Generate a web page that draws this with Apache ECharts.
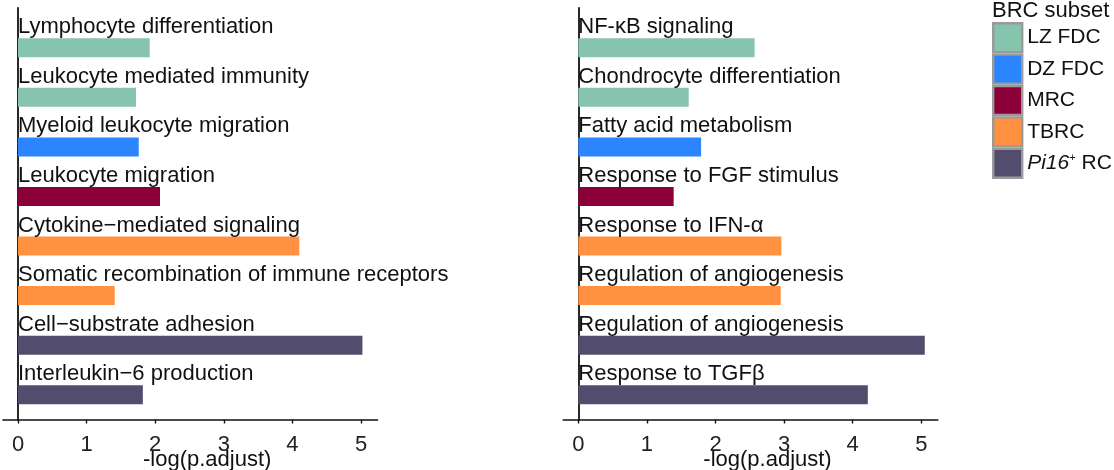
<!DOCTYPE html>
<html>
<head>
<meta charset="utf-8">
<script src="https://cdn.jsdelivr.net/npm/echarts@6/dist/echarts.min.js"></script>
<style>
html,body{margin:0;padding:0;background:#fff;}
#chart{width:1114px;height:470px;}
</style>
</head>
<body>
<div id="chart"></div>
<script>
// ---- data ----
const subsets = ['LZ FDC', 'DZ FDC', 'MRC', 'TBRC', 'Pi16+ RC'];
const subsetColors = ['#86C4AE', '#2A85FF', '#8C0039', '#FF9140', '#524C6E'];

const leftTerms = ['Lymphocyte differentiation', 'Leukocyte mediated immunity', 'Myeloid leukocyte migration',
  'Leukocyte migration', 'Cytokine\u2212mediated signaling', 'Somatic recombination of immune receptors',
  'Cell\u2212substrate adhesion', 'Interleukin\u22126 production'];
const leftValues = [1.92, 1.72, 1.76, 2.07, 4.10, 1.41, 5.02, 1.82];
const leftSubsets = ['LZ FDC', 'LZ FDC', 'DZ FDC', 'MRC', 'TBRC', 'TBRC', 'Pi16+ RC', 'Pi16+ RC'];

const rightTerms = ['NF-\u03baB signaling', 'Chondrocyte differentiation', 'Fatty acid metabolism',
  'Response to FGF stimulus', 'Response to IFN-\u03b1', 'Regulation of angiogenesis',
  'Regulation of angiogenesis', 'Response to TGF\u03b2'];
const rightValues = [2.57, 1.61, 1.79, 1.39, 2.96, 2.95, 5.05, 4.22];
const rightSubsets = ['LZ FDC', 'LZ FDC', 'DZ FDC', 'MRC', 'TBRC', 'TBRC', 'Pi16+ RC', 'Pi16+ RC'];

const xTicks = [0, 1, 2, 3, 4, 5];
const xTitle = '-log(p.adjust)';

// ---- chart ----
const FONT = 'Liberation Sans, Arial, sans-serif';
const TXT = '#111';
const chart = echarts.init(document.getElementById('chart'), null, {renderer: 'canvas'});

const XMIN = -0.22, XMAX = 5.24;
const panelLefts = [2.9, 563.2];
const panelWidth = 374.6;

const grids = [], xAxes = [], yAxes = [], series = [];
const panels = [
  {terms: leftTerms, values: leftValues, subs: leftSubsets},
  {terms: rightTerms, values: rightValues, subs: rightSubsets}
];

panels.forEach((p, pi) => {
  // grid for the tall vertical axis line
  grids.push({left: panelLefts[pi], width: panelWidth, top: 8, height: 412,
    containLabel: false, outerBoundsMode: 'none'});
  // grid for bars
  grids.push({left: panelLefts[pi], width: panelWidth, top: 23, height: 396.5,
    containLabel: false, outerBoundsMode: 'none'});
  const gLine = pi * 2, gBar = pi * 2 + 1;

  xAxes.push({gridIndex: gLine, type: 'value', min: XMIN, max: XMAX, show: false});
  yAxes.push({gridIndex: gLine, type: 'value', min: 0, max: 1,
    axisLine: {show: true, lineStyle: {color: '#111', width: 1.8}},
    axisTick: {show: false}, axisLabel: {show: false}, splitLine: {show: false}});

  xAxes.push({gridIndex: gBar, type: 'value', min: XMIN, max: XMAX,
    axisLine: {show: true, onZero: false, lineStyle: {color: '#111', width: 1.6}},
    axisTick: {show: true, length: 4, customValues: xTicks, lineStyle: {color: '#111', width: 1.4}},
    axisLabel: {show: true, customValues: xTicks, fontSize: 22, color: '#222', fontFamily: FONT, margin: 14},
    splitLine: {show: false},
    name: xTitle, nameLocation: 'middle', nameGap: 29, nameMoveOverlap: false,
    nameTextStyle: {fontSize: 22, color: TXT, fontFamily: FONT, padding: [0, 0, 0, 34]}});
  yAxes.push({gridIndex: gBar, type: 'category', data: p.terms, inverse: true,
    axisLine: {show: false}, axisTick: {show: false}, axisLabel: {show: false}, splitLine: {show: false}});

  subsets.forEach((s, si) => {
    series.push({
      name: s, type: 'bar', xAxisIndex: pi * 2 + 1, yAxisIndex: pi * 2 + 1,
      stack: 'panel' + pi, barWidth: 19,
      itemStyle: {color: subsetColors[si]},
      data: p.values.map((v, i) => p.subs[i] === s ? v : '-'),
      label: {show: true, position: [0, 0], align: 'left', verticalAlign: 'bottom',
        fontSize: 22, color: TXT, fontFamily: FONT,
        formatter: (prm) => p.terms[prm.dataIndex]},
      emphasis: {disabled: true}, silent: true, animation: false
    });
  });
});

chart.setOption({
  animation: false,
  backgroundColor: '#fff',
  textStyle: {fontFamily: FONT},
  title: {text: 'BRC subset', left: 992, top: 0, padding: 0,
    textStyle: {fontSize: 22, fontWeight: 'normal', color: TXT, fontFamily: FONT}},
  legend: {
    data: subsets, orient: 'vertical', left: 992, top: 22, padding: 0,
    itemWidth: 29, itemHeight: 29, itemGap: 0, icon: 'rect', selectedMode: false,
    itemStyle: {borderColor: '#9a9a9a', borderWidth: 2.4},
    textStyle: {fontSize: 21, color: TXT, fontFamily: FONT,
      rich: {
        i: {fontStyle: 'italic', fontSize: 21, color: TXT, fontFamily: FONT},
        sup: {fontSize: 11, color: TXT, fontFamily: FONT, padding: [0, 0, 10, 0]}
      }},
    formatter: (n) => n === 'Pi16+ RC' ? '{i|Pi16}{sup|+} RC' : n
  },
  grid: grids, xAxis: xAxes, yAxis: yAxes, series: series
});
</script>
</body>
</html>
